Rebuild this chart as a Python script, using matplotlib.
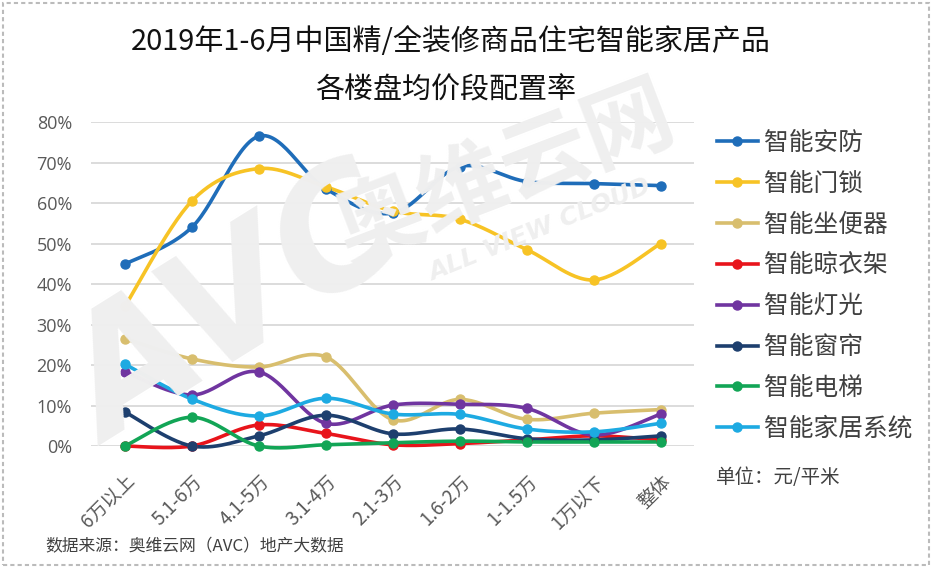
import numpy as np
import matplotlib
matplotlib.use('agg')
import matplotlib.pyplot as plt
from matplotlib.patches import Rectangle
from matplotlib.ticker import PercentFormatter

plt.rcParams['font.family'] = ['Noto Sans CJK SC', 'DejaVu Sans']

# price bands (yuan / m2)
categories = ['6万以上', '5.1-6万', '4.1-5万', '3.1-4万', '2.1-3万', '1.6-2万', '1-1.5万', '1万以下', '整体']

# configuration rate, %
anfang = [44.9, 54.0, 76.5, 63.5, 57.5, 69.0, 65.3, 64.8, 64.3]
mensuo = [34.5, 60.5, 68.5, 64.0, 58.0, 56.0, 48.5, 41.0, 50.0]
zuobianqi = [26.5, 21.5, 19.5, 22.0, 6.5, 11.5, 6.6, 8.1, 9.0]
liangyijia = [0.0, 0.0, 5.2, 3.1, 0.3, 0.6, 1.5, 2.5, 1.5]
dengguang = [18.3, 12.6, 18.3, 5.6, 10.1, 10.3, 9.3, 2.7, 7.9]
chuanglian = [8.4, 0.0, 2.5, 7.6, 3.0, 4.2, 1.8, 1.5, 2.5]
dianti = [0.0, 7.1, 0.0, 0.3, 0.8, 1.2, 1.0, 1.0, 1.0]
jiaju = [20.2, 11.6, 7.4, 11.8, 7.9, 7.8, 4.2, 3.5, 5.6]

names = ['智能安防', '智能门锁', '智能坐便器', '智能晾衣架', '智能灯光', '智能窗帘', '智能电梯', '智能家居系统']
series = [anfang, mensuo, zuobianqi, liangyijia, dengguang, chuanglian, dianti, jiaju]
colors = ['#1F6DB9', '#F7C325', '#D8BE6E', '#E8141B', '#7035A0', '#1D3F6E', '#12A556', '#1DAAE2']


def smooth(xs, ys, n=30):
    # excel-like smoothed line: cubic bezier through the points
    p = np.column_stack([xs, ys]).astype(float)
    ext = np.vstack([p[0], p, p[-1]])
    out = []
    t = np.linspace(0, 1, n)[:, None]
    for i in range(len(p) - 1):
        p0, p1, p2, p3 = ext[i], ext[i + 1], ext[i + 2], ext[i + 3]
        c1 = p1 + (p2 - p0) / 6
        c2 = p2 - (p3 - p1) / 6
        seg = (1 - t) ** 3 * p1 + 3 * (1 - t) ** 2 * t * c1 + 3 * (1 - t) * t ** 2 * c2 + t ** 3 * p2
        out.append(seg if i == 0 else seg[1:])
    out = np.vstack(out)
    return out[:, 0], out[:, 1]


fig = plt.figure(figsize=(9.33, 5.67), dpi=100)
ax = fig.add_axes([0.098, 0.2134, 0.646, 0.5714])

# watermark
wm = '#EFEFEF'
fig.text(0.255, 0.45, 'AVC', fontsize=118, fontweight='bold', style='italic', color=wm,
         rotation=32, ha='center', va='center', family='DejaVu Sans', zorder=0)
fig.text(0.541, 0.691, '奥维云网', fontsize=64, fontweight='bold', color=wm,
         rotation=21, ha='center', va='center', zorder=0)
fig.text(0.579, 0.594, 'ALL VIEW CLOUD', fontsize=18, fontweight='bold', style='italic', color=wm,
         rotation=22, ha='center', va='center', family='DejaVu Sans', zorder=0)

x = np.arange(len(categories))
for vals, name, c in zip(series, names, colors):
    sx, sy = smooth(x, vals)
    ax.plot(sx, sy, color=c, lw=2.6, solid_capstyle='round', clip_on=False, zorder=3)
    ax.plot(x, vals, 'o', color=c, ms=6.5, clip_on=False, zorder=4)
    ax.plot([], [], color=c, lw=2.6, marker='o', ms=6.5, label=name)

ax.set_xlim(-0.5, len(categories) - 0.5)
ax.set_ylim(0, 80)
ax.set_yticks(np.arange(0, 81, 10))
ax.yaxis.set_major_formatter(PercentFormatter(decimals=0))
ax.set_xticks(x)
ax.set_xticklabels(categories, rotation=45, ha='right', va='top', rotation_mode='anchor')
ax.tick_params(axis='x', length=0, pad=18, labelsize=13.5, labelcolor='#595959')
ax.tick_params(axis='y', length=0, pad=14, labelsize=13, labelcolor='#595959')
for lab in ax.get_yticklabels():
    lab.set_family(['Open Sans', 'DejaVu Sans'])
ax.grid(axis='y', color='#D9D9D9', lw=1.3)
ax.set_axisbelow(True)
for s in ax.spines.values():
    s.set_visible(False)
ax.patch.set_alpha(0)

ax.legend(loc='upper left', bbox_to_anchor=(717 / 933, 1 - 130 / 567), bbox_transform=fig.transFigure,
          frameon=False, fontsize=17.8, handlelength=1.65, handletextpad=0.25, labelspacing=0.6,
          borderpad=0, borderaxespad=0, labelcolor='#404040')

fig.text(0.4837, 1 - 42 / 567, '2019年1-6月中国精/全装修商品住宅智能家居产品', fontsize=20.9,
         ha='center', va='center', color='#111111')
fig.text(0.478, 1 - 90 / 567, '各楼盘均价段配置率', fontsize=20.9,
         ha='center', va='center', color='#111111')
fig.text(716 / 933, 1 - 478 / 567, '单位：元/平米', fontsize=14, ha='left', va='center', color='#404040')
fig.text(45 / 933, 1 - 547 / 567, '数据来源：奥维云网（AVC）地产大数据', fontsize=12.1,
         ha='left', va='center', color='#404040')

fig.patches.append(Rectangle((0.003, 0.004), 0.993, 0.99, transform=fig.transFigure, fill=False,
                             ec='#BBBBBB', lw=1.5, ls=(0, (2, 1.5))))

fig.savefig('out.png', dpi=100)
